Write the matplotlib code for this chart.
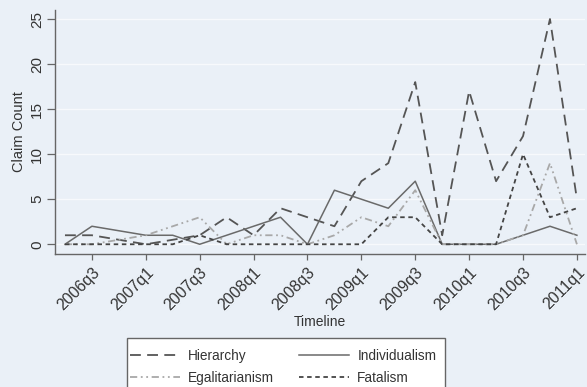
import numpy as np
import matplotlib.pyplot as plt
from matplotlib.lines import Line2D
from matplotlib.patches import Rectangle

plt.rcParams['font.family'] = ['Liberation Sans', 'DejaVu Sans']

quarters = ['2006q2', '2006q3', '2006q4', '2007q1', '2007q2', '2007q3', '2007q4',
            '2008q1', '2008q2', '2008q3', '2008q4', '2009q1', '2009q2', '2009q3',
            '2009q4', '2010q1', '2010q2', '2010q3', '2010q4', '2011q1']
hierarchy = [1, 1, 0.5, 0, 0.5, 1, 3, 1, 4, 3, 2, 7, 9, 18, 1, 17, 7, 12, 25, 5]
individualism = [0, 2, 1.5, 1, 1, 0, 1, 2, 3, 0, 6, 5, 4, 7, 0, 0, 0, 1, 2, 1]
egalitarianism = [0, 0, 0.5, 1, 2, 3, 0, 1, 1, 0, 1, 3, 2, 6, 0, 0, 0, 1, 9, 0]
fatalism = [0, 0, 0, 0, 0, 1, 0, 0, 0, 0, 0, 0, 3, 3, 0, 0, 0, 10, 3, 4]
yticks = [0, 5, 10, 15, 20, 25]

bg = '#eaf0f7'
x = np.arange(len(quarters))
W, H = 587, 387

# line styles shared by plot and legend
styles = {
    'Hierarchy': dict(color='#555555', lw=1.3, dashes=(6, 3.5)),
    'Individualism': dict(color='#6a6a6a', lw=1.1),
    'Egalitarianism': dict(color='#a8a8a8', lw=1.3, dashes=(4, 2, 1, 2, 1, 2)),
    'Fatalism': dict(color='#444444', lw=1.3, dashes=(2.5, 2)),
}

fig = plt.figure(figsize=(W / 100, H / 100), dpi=100, facecolor=bg)
ax = fig.add_axes([55 / W, 1 - 254 / H, 530 / W, 244 / H], facecolor=bg)

ax.plot(x, hierarchy, **styles['Hierarchy'])
ax.plot(x, individualism, **styles['Individualism'])
ax.plot(x, egalitarianism, **styles['Egalitarianism'])
ax.plot(x, fatalism, **styles['Fatalism'])

ax.set_xlim(-0.37, 19.3)
ax.set_ylim(-1.08, 26.0)

ax.set_yticks(yticks)
ax.set_yticklabels([str(v) for v in yticks], rotation=90, va='center',
                   fontsize=11, color='#333333')
ax.yaxis.grid(True, color='#f7f9fc', lw=1.0)
ax.set_axisbelow(True)

ax.set_xticks(x[1::2])
ax.set_xticklabels(quarters[1::2], rotation=45, ha='right', rotation_mode='anchor',
                   fontsize=11.5, color='#333333')

for side in ['top', 'right']:
    ax.spines[side].set_visible(False)
for side in ['left', 'bottom']:
    ax.spines[side].set_color('#666666')
    ax.spines[side].set_linewidth(1.0)
ax.tick_params(axis='y', length=6, width=0.9, color='#666666', pad=2)
ax.tick_params(axis='x', length=4, width=0.9, color='#666666', pad=4)

ax.set_ylabel('Claim Count', fontsize=10.5, color='#333333', labelpad=3)
ax.set_xlabel('Timeline', fontsize=10, color='#333333', labelpad=1)

# legend box runs off the bottom edge
fig.patches.append(Rectangle((127 / W, 1 - 400 / H), 318 / W, 62 / H,
                             transform=fig.transFigure, facecolor='white',
                             edgecolor='#666666', lw=1.0, zorder=0))

order = ['Hierarchy', 'Egalitarianism', 'Individualism', 'Fatalism']
handles = [Line2D([], [], **styles[k]) for k in order]
leg = fig.legend(handles, order, ncol=2, loc='upper center',
                 bbox_to_anchor=(283 / W, 1 - 349 / H), fontsize=9.8,
                 frameon=False, handlelength=3.7, columnspacing=1.8,
                 handletextpad=0.6, borderpad=0, borderaxespad=0,
                 labelspacing=0.6)
for t in leg.get_texts():
    t.set_color('#333333')

fig.savefig('out.png', dpi=100, facecolor=bg)
